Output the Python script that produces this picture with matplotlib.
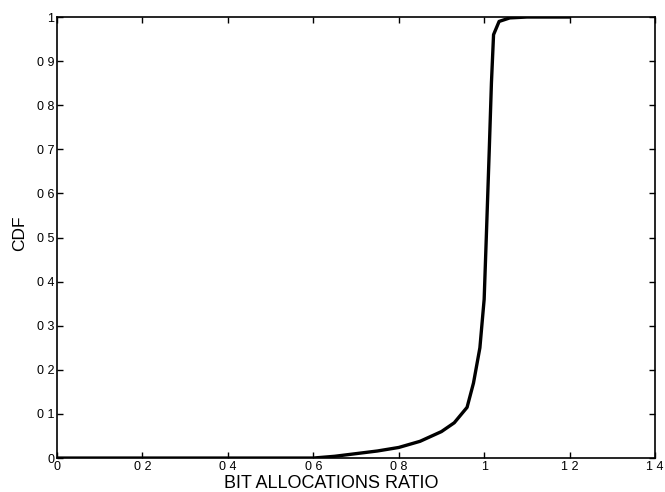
import matplotlib
matplotlib.use('Agg')
import matplotlib.pyplot as plt

# CDF of bit allocations ratio
ratio = [0.0, 0.6, 0.65, 0.7, 0.75, 0.8, 0.85, 0.9, 0.93, 0.96, 0.975, 0.99,
         1.0, 1.005, 1.012, 1.017, 1.022, 1.035, 1.06, 1.1, 1.2]
cdf = [0.0, 0.0, 0.004, 0.01, 0.016, 0.024, 0.038, 0.06, 0.08, 0.115, 0.17, 0.25,
       0.36, 0.5, 0.7, 0.85, 0.96, 0.99, 0.998, 1.0, 1.0]

xticks = [0, 0.2, 0.4, 0.6, 0.8, 1.0, 1.2, 1.4]
xtick_labels = ['0', '0 2', '0 4', '0 6', '0 8', '1', '1 2', '1 4']
yticks = [0, 0.1, 0.2, 0.3, 0.4, 0.5, 0.6, 0.7, 0.8, 0.9, 1.0]
ytick_labels = ['0', '0 1', '0 2', '0 3', '0 4', '0 5', '0 6', '0 7', '0 8', '0 9', '1']

plt.rcParams['font.family'] = ['Liberation Sans', 'DejaVu Sans']

fig = plt.figure(figsize=(6.65, 4.92), dpi=100)
ax = fig.add_axes([0.0857, 0.069, 0.8993, 0.8964])

ax.plot(ratio, cdf, color='black', linewidth=2.4, solid_capstyle='round')

ax.set_xlim(0, 1.4)
ax.set_ylim(0, 1)
ax.set_xticks(xticks)
ax.set_xticklabels(xtick_labels, fontsize=9)
ax.set_yticks(yticks)
ax.set_yticklabels(ytick_labels, fontsize=9)
ax.tick_params(direction='in', length=4, width=1, top=True, right=True, pad=2)
for s in ax.spines.values():
    s.set_linewidth(1.2)

# labels are off-centre in the scan, so place them by hand
ax.set_xlabel('BIT ALLOCATIONS RATIO', fontsize=13, va='top')
ax.xaxis.set_label_coords(0.458, -0.038)
ax.set_ylabel('CDF', fontsize=12.5, va='center')
ax.yaxis.set_label_coords(-0.062, 0.51)

fig.savefig('out.png', dpi=100)
